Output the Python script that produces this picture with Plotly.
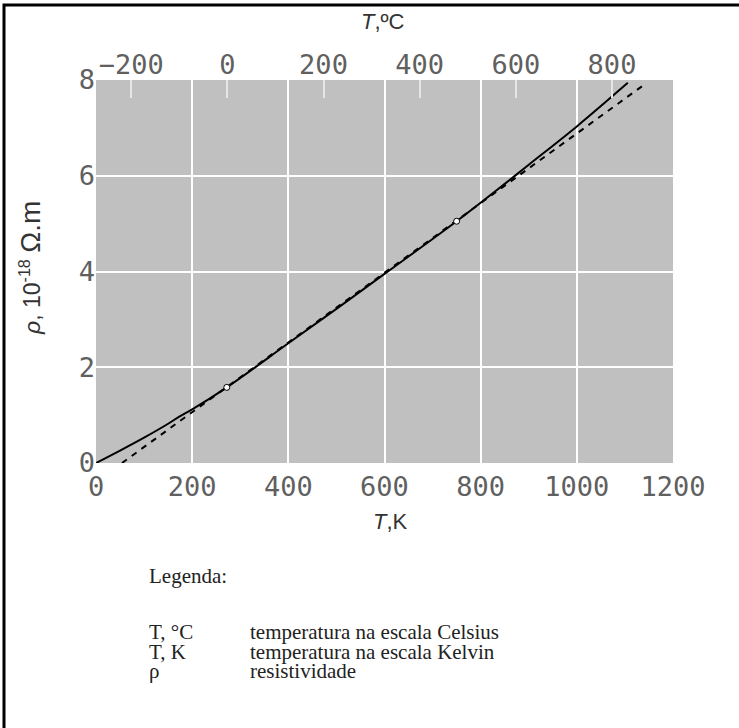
import plotly.graph_objects as go

# ---- data ----
t_k_solid = [0, 50, 100, 150, 175, 200, 272, 400, 500, 600, 750, 850, 900, 1000, 1106]
rho_solid = [0, 0.26, 0.53, 0.82, 0.98, 1.12, 1.58, 2.50, 3.22, 3.95, 5.05, 5.83, 6.23, 7.03, 7.94]
t_k_dashed = [54, 1137]
rho_dashed = [0, 7.88]
t_k_points = [272, 750]
rho_points = [1.58, 5.05]

k_ticks = [0, 200, 400, 600, 800, 1000, 1200]
c_ticks = [-200, 0, 200, 400, 600, 800]
rho_ticks = [0, 2, 4, 6, 8]

legend_title = "Legenda:"
legend_symbols = ["T, °C", "T, K", "ρ"]
legend_texts = ["temperatura na escala Celsius", "temperatura na escala Kelvin", "resistividade"]

# ---- geometry (page pixels; body margin removed below) ----
W, H = 739, 728
L, R, T, B = 96, 673, 80, 463


def px(x):
    return (x - L) / (R - L)


def py(y):
    return (B - y) / (B - T)


fig = go.Figure()
fig.add_trace(go.Scatter(x=t_k_solid, y=rho_solid, mode="lines",
                         line=dict(color="black", width=2, shape="spline"),
                         showlegend=False, hoverinfo="skip"))
fig.add_trace(go.Scatter(x=t_k_dashed, y=rho_dashed, mode="lines",
                         line=dict(color="black", width=2, dash="6px,6px"),
                         showlegend=False, hoverinfo="skip"))
fig.add_trace(go.Scatter(x=t_k_points, y=rho_points, mode="markers",
                         marker=dict(symbol="circle", size=6, color="white",
                                     line=dict(color="black", width=1)),
                         showlegend=False, hoverinfo="skip"))
# invisible trace to activate the Celsius axis
fig.add_trace(go.Scatter(x=[c_ticks[0], c_ticks[-1]], y=[0, 0], xaxis="x2", mode="markers",
                         marker=dict(opacity=0), showlegend=False, hoverinfo="skip"))

tick_font = dict(family="DejaVu Sans Mono", size=27, color="#606060")

fig.update_layout(
    width=W, height=H,
    margin=dict(l=L, r=W - R, t=T, b=H - B),
    paper_bgcolor="white",
    plot_bgcolor="#c0c0c0",
    xaxis=dict(range=[0, 1200], tickvals=k_ticks, ticktext=[str(v) for v in k_ticks],
               showgrid=True, gridcolor="white", gridwidth=2, zeroline=False,
               ticks="", showline=False, tickfont=tick_font, fixedrange=True,
               ticklabelstandoff=5),
    xaxis2=dict(range=[-273.15, 926.85], overlaying="x", side="top", anchor="y",
                tickvals=c_ticks, ticktext=[("−" if v < 0 else "") + str(abs(v)) for v in c_ticks],
                showgrid=False, zeroline=False, ticks="inside", ticklen=18, tickwidth=2,
                tickcolor="#e6e6e6", showline=False, tickfont=tick_font, fixedrange=True),
    yaxis=dict(range=[0, 8], tickvals=rho_ticks, showgrid=True, gridcolor="white",
               gridwidth=2, zeroline=False, ticks="", showline=False,
               tickfont=tick_font, fixedrange=True),
    shapes=[dict(type="rect", xref="paper", yref="paper",
                 x0=px(4), x1=px(760), y0=py(760), y1=py(5),
                 line=dict(color="black", width=3), fillcolor="rgba(0,0,0,0)")],
)

title_font = dict(family="Liberation Sans, Arial", size=22, color="#333333")
fig.add_annotation(x=px(383), y=py(22), xref="paper", yref="paper",
                   text="<i>T</i>,ºC", showarrow=False, font=title_font,
                   xanchor="center", yanchor="middle")
fig.add_annotation(x=px(390), y=py(521), xref="paper", yref="paper",
                   text="<i>T</i>,K", showarrow=False, font=title_font,
                   xanchor="center", yanchor="middle")
fig.add_annotation(x=px(30), y=py(268), xref="paper", yref="paper",
                   text="<i>ρ</i>, 10<sup>-18</sup> <span style='font-size:28px'>Ω.m</span>",
                   showarrow=False, textangle=-90,
                   font=dict(family="Liberation Sans, Arial", size=23, color="#333333"),
                   xanchor="center", yanchor="middle")

serif = dict(family="Liberation Serif, Times New Roman", size=21, color="#222222")
fig.add_annotation(x=px(147), y=py(576), xref="paper", yref="paper", text=legend_title,
                   showarrow=False, font=serif, xanchor="left", yanchor="middle")
row_y = [632, 652, 671]
for sym, txt, yy in zip(legend_symbols, legend_texts, row_y):
    fig.add_annotation(x=px(147), y=py(yy), xref="paper", yref="paper", text=sym,
                       showarrow=False, font=serif, xanchor="left", yanchor="middle")
    fig.add_annotation(x=px(248), y=py(yy), xref="paper", yref="paper", text=txt,
                       showarrow=False, font=serif, xanchor="left", yanchor="middle")

fig.write_html("out.html", config={"displayModeBar": False},
               post_script="document.body.style.margin='0';document.body.style.overflow='hidden';")
